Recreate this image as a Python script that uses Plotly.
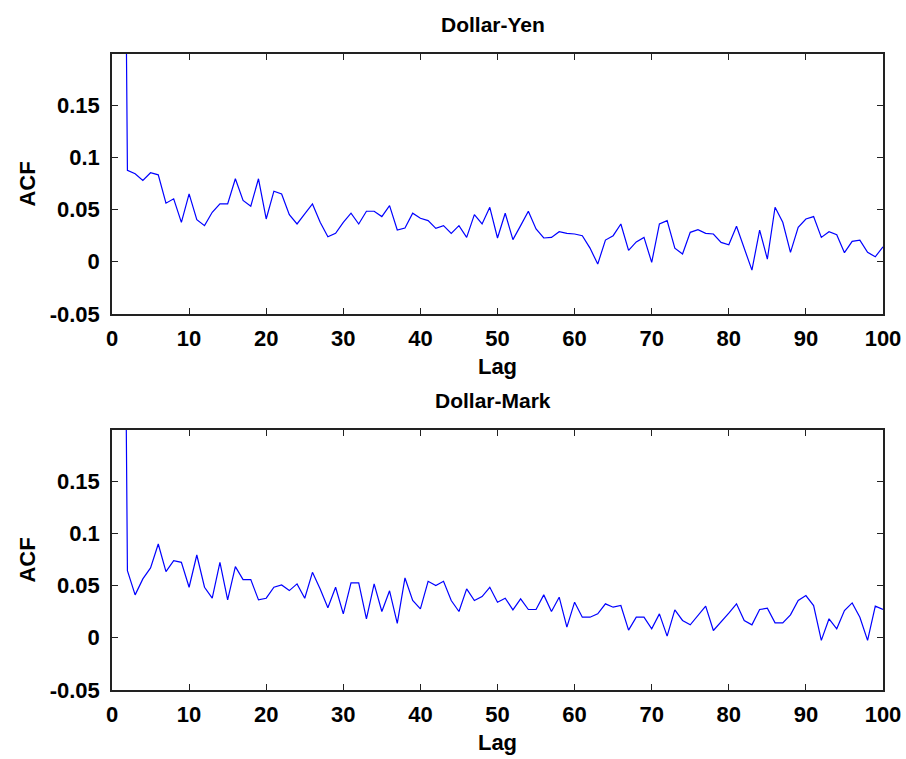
import plotly.graph_objects as go
from plotly.subplots import make_subplots

lags = list(range(1, 101))

yen_acf = [1.0,
    0.0875, 0.0843, 0.0779, 0.0853, 0.0833, 0.0561, 0.0603, 0.0378, 0.0650,
    0.0404, 0.0346, 0.0474, 0.0554, 0.0554, 0.0795, 0.0587, 0.0532, 0.0795, 0.0410,
    0.0676, 0.0650, 0.0452, 0.0362, 0.0458, 0.0554, 0.0378, 0.0240, 0.0272, 0.0378,
    0.0465, 0.0362, 0.0484, 0.0484, 0.0433, 0.0538, 0.0304, 0.0324, 0.0465, 0.0417,
    0.0394, 0.0320, 0.0346, 0.0272, 0.0346, 0.0234, 0.0452, 0.0362, 0.0522, 0.0228,
    0.0465, 0.0212, 0.0346, 0.0484, 0.0314, 0.0228, 0.0234, 0.0288, 0.0272, 0.0266,
    0.0250, 0.0131, -0.0022, 0.0208, 0.0250, 0.0362, 0.0110, 0.0190, 0.0234, -0.0006,
    0.0362, 0.0394, 0.0131, 0.0074, 0.0282, 0.0308, 0.0272, 0.0266, 0.0186, 0.0163,
    0.0340, 0.0122, -0.0080, 0.0304, 0.0026, 0.0522, 0.0378, 0.0090, 0.0330, 0.0410,
    0.0433, 0.0234, 0.0288, 0.0260, 0.0087, 0.0196, 0.0208, 0.0090, 0.0048, 0.0144]

mark_acf = [1.0,
    0.0643, 0.0411, 0.0564, 0.0669, 0.0898, 0.0634, 0.0739, 0.0723, 0.0484,
    0.0793, 0.0484, 0.0379, 0.0723, 0.0363, 0.0682, 0.0557, 0.0557, 0.0363, 0.0379,
    0.0484, 0.0506, 0.0452, 0.0516, 0.0379, 0.0627, 0.0468, 0.0287, 0.0484, 0.0229,
    0.0525, 0.0525, 0.0182, 0.0516, 0.0252, 0.0450, 0.0138, 0.0573, 0.0357, 0.0277,
    0.0541, 0.0500, 0.0541, 0.0357, 0.0252, 0.0468, 0.0357, 0.0395, 0.0484, 0.0341,
    0.0379, 0.0268, 0.0373, 0.0271, 0.0271, 0.0411, 0.0252, 0.0389, 0.0102, 0.0341,
    0.0197, 0.0197, 0.0229, 0.0325, 0.0293, 0.0309, 0.0073, 0.0197, 0.0197, 0.0086,
    0.0229, 0.0016, 0.0268, 0.0166, 0.0124, 0.0213, 0.0303, 0.0070, 0.0150, 0.0236,
    0.0325, 0.0166, 0.0124, 0.0271, 0.0283, 0.0143, 0.0143, 0.0220, 0.0357, 0.0404,
    0.0309, -0.0025, 0.0182, 0.0086, 0.0261, 0.0334, 0.0197, -0.0025, 0.0303, 0.0271]

titles = ["Dollar-Yen", "Dollar-Mark"]
x_ticks = [0, 10, 20, 30, 40, 50, 60, 70, 80, 90, 100]
y_ticks = [-0.05, 0, 0.05, 0.1, 0.15]
y_tick_text = ["-0.05", "0", "0.05", "0.1", "0.15"]

FONT = "Liberation Sans, Arial, sans-serif"

fig = make_subplots(rows=2, cols=1, vertical_spacing=0.1824)
fig.add_trace(go.Scatter(x=lags, y=yen_acf, mode="lines",
                         line=dict(color="#0000ff", width=1.2)), row=1, col=1)
fig.add_trace(go.Scatter(x=lags, y=mark_acf, mode="lines",
                         line=dict(color="#0000ff", width=1.2)), row=2, col=1)

axis_common = dict(showline=True, linecolor="#222222", linewidth=1.5, mirror="ticks",
                   ticks="inside", ticklen=6, tickwidth=1.2, tickcolor="#222222",
                   showgrid=False, zeroline=False, automargin=False,
                   tickfont=dict(family=FONT, size=22, color="black", weight="bold"))

for r in (1, 2):
    fig.update_xaxes(range=[0, 100], tickvals=x_ticks, ticklabelstandoff=4,
                     title=dict(text="<b>Lag</b>", font=dict(family=FONT, size=22, color="black"),
                                standoff=8),
                     row=r, col=1, **axis_common)
    fig.update_yaxes(range=[-0.05, 0.199], tickvals=y_ticks, ticktext=y_tick_text,
                     ticklabelstandoff=6,
                     title=dict(text="<b>ACF</b>", font=dict(family=FONT, size=22, color="black"),
                                standoff=8),
                     row=r, col=1, **axis_common)

fig.layout.yaxis.domain = [0.5912, 1.0]
fig.layout.yaxis2.domain = [0.0, 0.4088]

ann = []
for t, yp in zip(titles, [1.0, 0.4088]):
    ann.append(dict(text="<b>%s</b>" % t, x=0.494, xref="paper", y=yp, yref="paper",
                    yanchor="bottom", yshift=16, showarrow=False,
                    font=dict(family=FONT, size=21, color="black")))
fig.update_layout(annotations=ann)

fig.update_layout(width=906, height=759, showlegend=False,
                  paper_bgcolor="white", plot_bgcolor="white",
                  margin=dict(l=112, r=23, t=54, b=69))

fig.write_html("out.html")
